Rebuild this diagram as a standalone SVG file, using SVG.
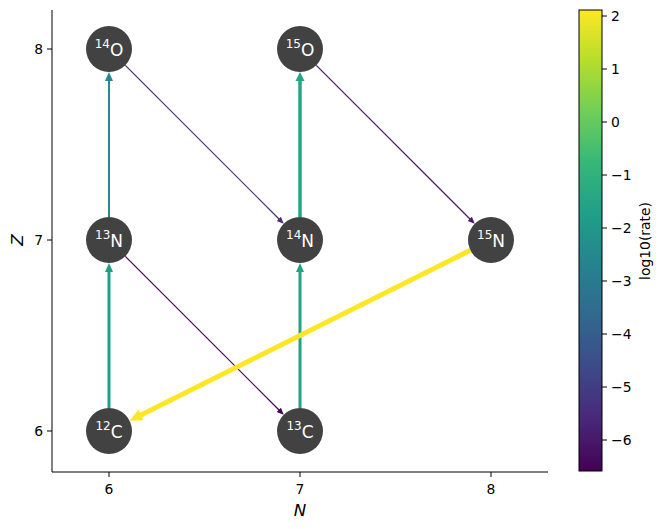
<svg xmlns="http://www.w3.org/2000/svg" width="662" height="529" viewBox="0 0 662 529">
<defs>
<style>
text{font-family:"DejaVu Sans","Liberation Sans",sans-serif;}
.tick{font-size:13.9px;fill:#000;}
.ax{stroke:#000;stroke-width:1;fill:none;}
.node circle{fill:#424242;}
.node text{fill:#fff;font-size:17px;text-anchor:middle;}
.node tspan.s{font-size:12px;}
.edge{fill:none;stroke-linecap:butt;}
</style>
<linearGradient id="viridis" x1="0" y1="1" x2="0" y2="0">
<stop offset="0" stop-color="#440154"/>
<stop offset="0.1111" stop-color="#482878"/>
<stop offset="0.2222" stop-color="#3e4989"/>
<stop offset="0.3333" stop-color="#31688e"/>
<stop offset="0.4444" stop-color="#26828e"/>
<stop offset="0.5556" stop-color="#1f9e89"/>
<stop offset="0.6667" stop-color="#35b779"/>
<stop offset="0.7778" stop-color="#6ece58"/>
<stop offset="0.8889" stop-color="#b5de2b"/>
<stop offset="1" stop-color="#fde725"/>
</linearGradient>
<marker id="hA1" markerUnits="userSpaceOnUse" markerWidth="12" markerHeight="12" viewBox="0 -6 12 12" refX="1" refY="0" orient="auto"><path d="M0,-4 L9,0 L0,4 z" fill="#1f9f88"/></marker>
<marker id="hA2" markerUnits="userSpaceOnUse" markerWidth="12" markerHeight="12" viewBox="0 -6 12 12" refX="1" refY="0" orient="auto"><path d="M0,-4 L9,0 L0,4 z" fill="#25898e"/></marker>
<marker id="hA3" markerUnits="userSpaceOnUse" markerWidth="12" markerHeight="12" viewBox="0 -6 12 12" refX="1" refY="0" orient="auto"><path d="M0,-4 L9,0 L0,4 z" fill="#20a386"/></marker>
<marker id="hA4" markerUnits="userSpaceOnUse" markerWidth="12" markerHeight="12" viewBox="0 -6 12 12" refX="1" refY="0" orient="auto"><path d="M0,-4.5 L9,0 L0,4.5 z" fill="#22a785"/></marker>
<marker id="hD1" markerUnits="userSpaceOnUse" markerWidth="10" markerHeight="10" viewBox="0 -5 10 10" refX="1" refY="0" orient="auto"><path d="M0,-3 L7,0 L0,3 z" fill="#472d7b"/></marker>
<marker id="hD2" markerUnits="userSpaceOnUse" markerWidth="10" markerHeight="10" viewBox="0 -5 10 10" refX="1" refY="0" orient="auto"><path d="M0,-3 L7,0 L0,3 z" fill="#48186a"/></marker>
<marker id="hD3" markerUnits="userSpaceOnUse" markerWidth="10" markerHeight="10" viewBox="0 -5 10 10" refX="1" refY="0" orient="auto"><path d="M0,-3 L7,0 L0,3 z" fill="#440154"/></marker>
<marker id="hY" markerUnits="userSpaceOnUse" markerWidth="16" markerHeight="16" viewBox="0 -8 16 16" refX="2" refY="0" orient="auto"><path d="M0,-6 L13,0 L0,6 z" fill="#fde725"/></marker>
</defs>
<rect width="662" height="529" fill="#fff"/>

<!-- axes -->
<g id="axes">
<path class="ax" d="M52,10 V472 H548"/>
<path class="ax" d="M109,472 v5 M300,472 v5 M491,472 v5 M52,49 h-5 M52,240 h-5 M52,431 h-5"/>
<text class="tick" x="109" y="494" text-anchor="middle">6</text>
<text class="tick" x="300" y="494" text-anchor="middle">7</text>
<text class="tick" x="491" y="494" text-anchor="middle">8</text>
<text class="tick" x="43" y="54" text-anchor="end">8</text>
<text class="tick" x="43" y="245" text-anchor="end">7</text>
<text class="tick" x="43" y="436" text-anchor="end">6</text>
<text x="300" y="516" font-size="16.7" font-style="italic" text-anchor="middle">N</text>
<text x="0" y="0" font-size="16.7" font-style="italic" text-anchor="middle" transform="translate(23,240) rotate(-90)">Z</text>
</g>

<!-- connectors -->
<g id="connectors">
<path class="edge" d="M109,408 V271" stroke="#1f9f88" stroke-width="3" marker-end="url(#hA1)"/>
<path class="edge" d="M109,217 V80" stroke="#25898e" stroke-width="2" marker-end="url(#hA2)"/>
<path class="edge" d="M300,408 V271" stroke="#20a386" stroke-width="3" marker-end="url(#hA3)"/>
<path class="edge" d="M300,217 V80" stroke="#22a785" stroke-width="3.5" marker-end="url(#hA4)"/>
<path class="edge" d="M125.3,65.3 L279.5,219.5" stroke="#472d7b" stroke-width="1.2" marker-end="url(#hD1)"/>
<path class="edge" d="M316.3,65.3 L470.5,219.5" stroke="#48186a" stroke-width="1.2" marker-end="url(#hD2)"/>
<path class="edge" d="M125.3,256.3 L279.5,410.5" stroke="#440154" stroke-width="1.2" marker-end="url(#hD3)"/>
<path class="edge" d="M470.4,250.3 L139.4,415.8" stroke="#fde725" stroke-width="5" marker-end="url(#hY)"/>
</g>

<!-- nodes -->
<g id="O14" class="node"><circle cx="109" cy="49" r="23"/><text x="109" y="56"><tspan class="s" dy="-8">14</tspan><tspan dy="8">O</tspan></text></g>
<g id="O15" class="node"><circle cx="300" cy="49" r="23"/><text x="300" y="56"><tspan class="s" dy="-8">15</tspan><tspan dy="8">O</tspan></text></g>
<g id="N13" class="node"><circle cx="109" cy="240" r="23"/><text x="109" y="247"><tspan class="s" dy="-8">13</tspan><tspan dy="8">N</tspan></text></g>
<g id="N14" class="node"><circle cx="300" cy="240" r="23"/><text x="300" y="247"><tspan class="s" dy="-8">14</tspan><tspan dy="8">N</tspan></text></g>
<g id="N15" class="node"><circle cx="491" cy="240" r="23"/><text x="491" y="247"><tspan class="s" dy="-8">15</tspan><tspan dy="8">N</tspan></text></g>
<g id="C12" class="node"><circle cx="109" cy="431" r="23"/><text x="109" y="438"><tspan class="s" dy="-8">12</tspan><tspan dy="8">C</tspan></text></g>
<g id="C13" class="node"><circle cx="300" cy="431" r="23"/><text x="300" y="438"><tspan class="s" dy="-8">13</tspan><tspan dy="8">C</tspan></text></g>

<!-- colorbar -->
<g id="colorbar">
<rect x="579" y="10" width="23" height="461" fill="url(#viridis)" stroke="#000" stroke-width="1"/>
<path class="ax" d="M602,16 h5 M602,69 h5 M602,122 h5 M602,175 h5 M602,228 h5 M602,281 h5 M602,334 h5 M602,387 h5 M602,440 h5"/>
<text class="tick" x="611" y="21">2</text>
<text class="tick" x="611" y="74">1</text>
<text class="tick" x="611" y="127">0</text>
<text class="tick" x="611" y="180">−1</text>
<text class="tick" x="611" y="233">−2</text>
<text class="tick" x="611" y="286">−3</text>
<text class="tick" x="611" y="339">−4</text>
<text class="tick" x="611" y="392">−5</text>
<text class="tick" x="611" y="445">−6</text>
<text class="tick" x="0" y="0" text-anchor="middle" transform="translate(650,241) rotate(-90)">log10(rate)</text>
</g>
</svg>
